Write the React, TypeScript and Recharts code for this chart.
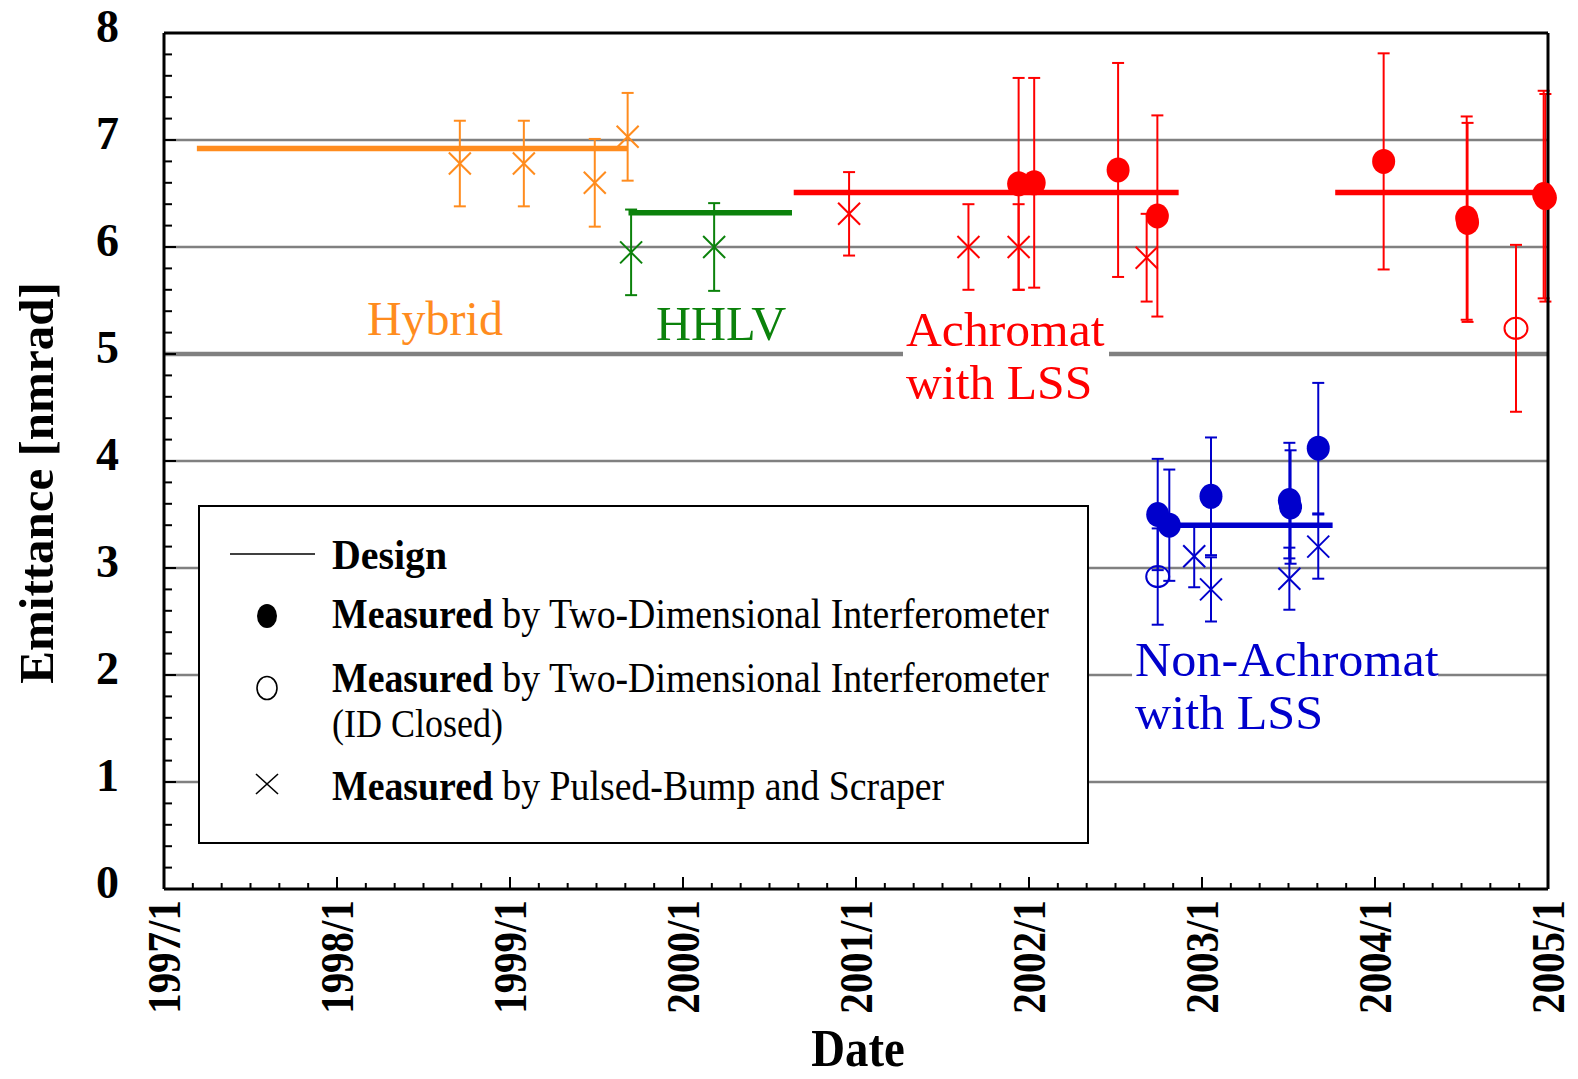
import {
  ComposedChart,
  ErrorBar,
  Legend,
  ReferenceDot,
  ReferenceLine,
  Scatter,
  XAxis,
  YAxis,
} from "recharts"

const SERIF = '"Liberation Serif", "Times New Roman", Times, serif'

const ORANGE = "#ff8c1e"
const GREEN = "#0b820b"
const RED = "#ff0000"
const BLUE = "#0000cc"
const GRID = "#808080"

// axis ticks (majors get a label, minors are only marks)
const YEAR_TICKS = [1997, 1998, 1999, 2000, 2001, 2002, 2003, 2004, 2005]
const EMITTANCE_TICKS = [0, 1, 2, 3, 4, 5, 6, 7, 8]
const GRID_THIN = [1, 2, 3, 4, 6, 7]
const GRID_THICK = [5]

// Hybrid lattice
const HYBRID_DESIGN = [
  { x: 1997.19, y: 6.92 },
  { x: 1999.68, y: 6.92 },
]
const HYBRID_PULSED = [
  { x: 1998.71, y: 6.78, err: 0.4 },
  { x: 1999.08, y: 6.78, err: 0.4 },
  { x: 1999.49, y: 6.6, err: 0.41 },
  { x: 1999.68, y: 7.03, err: 0.41 },
]

// HHLV lattice
const HHLV_DESIGN = [
  { x: 1999.685, y: 6.32 },
  { x: 2000.63, y: 6.32 },
]
const HHLV_PULSED = [
  { x: 1999.7, y: 5.95, err: 0.4 },
  { x: 2000.18, y: 6.0, err: 0.41 },
]

// Achromat with LSS
const ACHROMAT_DESIGN_A = [
  { x: 2000.64, y: 6.51 },
  { x: 2002.865, y: 6.51 },
]
const ACHROMAT_DESIGN_B = [
  { x: 2003.77, y: 6.51 },
  { x: 2005.0, y: 6.51 },
]
const ACHROMAT_PULSED = [
  { x: 2000.96, y: 6.31, err: 0.39 },
  { x: 2001.65, y: 6.0, err: 0.4 },
  { x: 2001.94, y: 6.0, err: 0.4 },
  { x: 2002.68, y: 5.9, err: 0.41 },
]
const ACHROMAT_INTERF = [
  { x: 2001.94, y: 6.59, err: 0.99 },
  { x: 2002.03, y: 6.6, err: 0.98 },
  { x: 2002.515, y: 6.72, err: 1.0 },
  { x: 2002.742, y: 6.29, err: 0.94 },
  { x: 2004.05, y: 6.8, err: 1.01 },
  { x: 2004.53, y: 6.27, err: 0.95 },
  { x: 2004.535, y: 6.23, err: 0.93 },
  { x: 2004.975, y: 6.49, err: 0.97 },
  { x: 2004.985, y: 6.46, err: 0.97 },
]
const ACHROMAT_ID_CLOSED = [{ x: 2004.815, y: 5.24, err: 0.78 }]

// Non-Achromat with LSS
const NON_ACHROMAT_DESIGN = [
  { x: 2002.74, y: 3.4 },
  { x: 2003.755, y: 3.4 },
]
const NON_ACHROMAT_INTERF = [
  { x: 2002.744, y: 3.5, err: 0.52 },
  { x: 2002.811, y: 3.4, err: 0.52 },
  { x: 2003.052, y: 3.67, err: 0.55 },
  { x: 2003.505, y: 3.63, err: 0.54 },
  { x: 2003.512, y: 3.57, err: 0.53 },
  { x: 2003.672, y: 4.12, err: 0.61 },
]
const NON_ACHROMAT_ID_CLOSED = [{ x: 2002.744, y: 2.92, err: 0.45 }]
const NON_ACHROMAT_PULSED = [
  { x: 2002.955, y: 3.11, err: 0.29 },
  { x: 2003.052, y: 2.8, err: 0.3 },
  { x: 2003.505, y: 2.9, err: 0.29 },
  { x: 2003.672, y: 3.2, err: 0.3 },
]

// lattice names written on the plot, anchored at the start of the first baseline
const NOTES = [
  { lines: ["Hybrid"], color: ORANGE, x: 1998.173, y: 5.178, box: 0, stretch: 1 },
  { lines: ["HHLV"], color: GREEN, x: 1999.844, y: 5.131, box: 0, stretch: 1.01 },
  { lines: ["Achromat", "with LSS"], color: RED, x: 2001.289, y: 5.075, box: 206, stretch: 1.035 },
  { lines: ["Non-Achromat", "with LSS"], color: BLUE, x: 2002.613, y: 1.99, box: 306, stretch: 1.045 },
]
const NOTE_SIZE = 48
const NOTE_GAP = 53

const LEGEND_ROWS = [
  { marker: "filled", rest: " by Two-Dimensional Interferometer", extra: "" },
  { marker: "open", rest: " by Two-Dimensional Interferometer", extra: "(ID Closed)" },
  { marker: "cross", rest: " by Pulsed-Bump and Scraper", extra: "" },
]

function withMinor(majors: number[], per: number) {
  const out: number[] = []
  majors.forEach((m, i) => {
    out.push(m)
    if (i < majors.length - 1) {
      for (let k = 1; k < per; k++) out.push(m + (k * (majors[i + 1] - m)) / per)
    }
  })
  return out
}

const X_TICKS = withMinor(YEAR_TICKS, 6)
const Y_TICKS = withMinor(EMITTANCE_TICKS, 5)

const filledDot = (color: string) => (p: any) =>
  <ellipse cx={p.cx} cy={p.cy} rx={11.5} ry={12.5} fill={color} />

const openDot = (color: string) => (p: any) =>
  <ellipse cx={p.cx} cy={p.cy} rx={11.5} ry={10.5} fill="none" stroke={color} strokeWidth={2} />

const crossMark = (color: string) => (p: any) => (
  <g stroke={color} strokeWidth={2}>
    <line x1={p.cx - 11} y1={p.cy - 11} x2={p.cx + 11} y2={p.cy + 11} />
    <line x1={p.cx - 11} y1={p.cy + 11} x2={p.cx + 11} y2={p.cy - 11} />
  </g>
)

function BottomTick({ x, y, payload }: any) {
  const major = YEAR_TICKS.includes(payload.value)
  return (
    <g>
      <line x1={x} x2={x} y1={y} y2={y - (major ? 12 : 6)} stroke="#000" strokeWidth={2} />
      {major && (
        <text
          transform={`translate(${x},${y + 11}) rotate(-90) scale(1,1.12)`}
          textAnchor="end"
          dy="0.34em"
          fontFamily={SERIF}
          fontWeight="bold"
          fontSize={41}
          fill="#000"
        >
          {`${payload.value}/1`}
        </text>
      )}
    </g>
  )
}

function TopTick({ x, y, payload }: any) {
  const major = YEAR_TICKS.includes(payload.value)
  return <line x1={x} x2={x} y1={y} y2={y + (major ? 12 : 6)} stroke="#000" strokeWidth={2} />
}

function LeftTick({ x, y, payload }: any) {
  const major = EMITTANCE_TICKS.includes(payload.value)
  return (
    <g>
      <line x1={x} x2={x + (major ? 12 : 8)} y1={y} y2={y} stroke="#000" strokeWidth={2} />
      {major && (
        <text x={x - 45} y={y + 9} textAnchor="end" fontFamily={SERIF} fontWeight="bold" fontSize={46} fill="#000">
          {payload.value}
        </text>
      )}
    </g>
  )
}

function RightTick({ x, y, payload }: any) {
  const major = EMITTANCE_TICKS.includes(payload.value)
  return <line x1={x} x2={x - (major ? 12 : 8)} y1={y} y2={y} stroke="#000" strokeWidth={2} />
}

function YTitle({ viewBox }: any) {
  const cy = viewBox.y + viewBox.height / 2 + 22
  return (
    <text
      transform={`translate(36,${cy}) rotate(-90)`}
      textAnchor="middle"
      dy="0.34em"
      fontFamily={SERIF}
      fontWeight="bold"
      fontSize={49}
      fill="#000"
    >
      Emittance [nmrad]
    </text>
  )
}

function XTitle({ viewBox }: any) {
  const cx = viewBox.x + viewBox.width / 2 + 2
  return (
    <text
      transform={`translate(${cx},1066) scale(0.9,1)`}
      textAnchor="middle"
      fontFamily={SERIF}
      fontWeight="bold"
      fontSize={52}
      fill="#000"
    >
      Date
    </text>
  )
}

function noteShape(note: (typeof NOTES)[number]) {
  return (p: any) => (
    <g>
      {note.box > 0 && (
        <rect
          x={p.cx - 3}
          y={p.cy - 40}
          width={note.box}
          height={40 + NOTE_GAP * (note.lines.length - 1) + 12}
          fill="#fff"
        />
      )}
      {note.lines.map((line, i) => (
        <text
          key={line}
          transform={`translate(${p.cx},${p.cy + i * NOTE_GAP}) scale(${note.stretch},1)`}
          fontFamily={SERIF}
          fontSize={NOTE_SIZE}
          fill={note.color}
        >
          {line}
        </text>
      ))}
    </g>
  )
}

function LegendMarker({ kind, cx, cy }: { kind: string; cx: number; cy: number }) {
  if (kind === "filled") return <ellipse cx={cx} cy={cy} rx={10} ry={12} fill="#000" />
  if (kind === "open") return <ellipse cx={cx} cy={cy} rx={10} ry={11.5} fill="none" stroke="#000" strokeWidth={1.6} />
  return (
    <g stroke="#000" strokeWidth={1.6}>
      <line x1={cx - 11} y1={cy - 10} x2={cx + 11} y2={cy + 10} />
      <line x1={cx - 11} y1={cy + 10} x2={cx + 11} y2={cy - 10} />
    </g>
  )
}

function LegendBox() {
  const rowY = [123, 187, 295]
  const markerY = [111, 183, 279]
  return (
    <svg width={891} height={339} style={{ display: "block" }}>
      <rect x={1} y={1} width={889} height={337} fill="#fff" stroke="#000" strokeWidth={2} />
      <line x1={32} x2={117} y1={49} y2={49} stroke="#000" strokeWidth={1.6} />
      <text transform="translate(134,64) scale(0.95,1)" fontFamily={SERIF} fontWeight="bold" fontSize={42} fill="#000">
        Design
      </text>
      {LEGEND_ROWS.map((row, i) => (
        <g key={i}>
          <LegendMarker kind={row.marker} cx={69} cy={markerY[i]} />
          <text transform={`translate(134,${rowY[i]}) scale(0.9,1)`} fontFamily={SERIF} fontSize={42} fill="#000">
            <tspan fontWeight="bold">Measured</tspan>
            <tspan>{row.rest}</tspan>
          </text>
          {row.extra && (
            <text transform={`translate(134,${rowY[i] + 45}) scale(0.9,1)`} fontFamily={SERIF} fontSize={40} fill="#000">
              {row.extra}
            </text>
          )}
        </g>
      ))}
    </svg>
  )
}

const designLines = [
  { seg: HYBRID_DESIGN, color: ORANGE },
  { seg: HHLV_DESIGN, color: GREEN },
  { seg: ACHROMAT_DESIGN_A, color: RED },
  { seg: ACHROMAT_DESIGN_B, color: RED },
  { seg: NON_ACHROMAT_DESIGN, color: BLUE },
]

const measured = [
  { data: HYBRID_PULSED, color: ORANGE, shape: crossMark },
  { data: HHLV_PULSED, color: GREEN, shape: crossMark },
  { data: ACHROMAT_PULSED, color: RED, shape: crossMark },
  { data: ACHROMAT_ID_CLOSED, color: RED, shape: openDot },
  { data: ACHROMAT_INTERF, color: RED, shape: filledDot },
  { data: NON_ACHROMAT_PULSED, color: BLUE, shape: crossMark },
  { data: NON_ACHROMAT_ID_CLOSED, color: BLUE, shape: openDot },
  { data: NON_ACHROMAT_INTERF, color: BLUE, shape: filledDot },
]

export default function App() {
  return (
    <div style={{ position: "absolute", left: 0, top: 0, width: 1578, height: 1079, background: "#fff", fontFamily: SERIF }}>
      <ComposedChart width={1578} height={1079} margin={{ top: 32, right: 29, bottom: 0, left: 0 }}>
        <XAxis
          type="number"
          dataKey="x"
          domain={[1997, 2005]}
          ticks={X_TICKS}
          interval={0}
          height={190}
          tickSize={0}
          tickMargin={0}
          tickLine={false}
          axisLine={{ stroke: "#000", strokeWidth: 3 }}
          tick={BottomTick}
          label={XTitle}
        />
        <XAxis
          xAxisId="top"
          orientation="top"
          type="number"
          domain={[1997, 2005]}
          ticks={X_TICKS}
          interval={0}
          height={1}
          tickSize={0}
          tickMargin={0}
          tickLine={false}
          axisLine={{ stroke: "#000", strokeWidth: 3 }}
          tick={TopTick}
        />
        <YAxis
          type="number"
          dataKey="y"
          domain={[0, 8]}
          ticks={Y_TICKS}
          interval={0}
          width={164}
          tickSize={0}
          tickMargin={0}
          tickLine={false}
          axisLine={{ stroke: "#000", strokeWidth: 3 }}
          tick={LeftTick}
          label={YTitle}
        />
        <YAxis
          yAxisId="right"
          orientation="right"
          type="number"
          domain={[0, 8]}
          ticks={Y_TICKS}
          interval={0}
          width={1}
          tickSize={0}
          tickMargin={0}
          tickLine={false}
          axisLine={{ stroke: "#000", strokeWidth: 3 }}
          tick={RightTick}
        />

        {GRID_THIN.map((v) => (
          <ReferenceLine key={`g${v}`} y={v} stroke={GRID} strokeWidth={2.5} />
        ))}
        {GRID_THICK.map((v) => (
          <ReferenceLine key={`G${v}`} y={v} stroke={GRID} strokeWidth={4.5} />
        ))}

        {NOTES.map((note) => (
          <ReferenceDot key={note.lines[0]} x={note.x} y={note.y} r={0} ifOverflow="visible" shape={noteShape(note)} />
        ))}

        {designLines.map((d, i) => (
          <ReferenceLine key={`d${i}`} segment={d.seg} stroke={d.color} strokeWidth={5.5} />
        ))}

        {measured.map((m, i) => (
          <Scatter
            key={`m${i}`}
            data={m.data}
            fill={m.color}
            shape={m.shape(m.color)}
            legendType="none"
            isAnimationActive={false}
          >
            <ErrorBar dataKey="err" direction="y" width={6} stroke={m.color} strokeWidth={2} isAnimationActive={false} />
          </Scatter>
        ))}

        <Legend
          layout="horizontal"
          verticalAlign="middle"
          align="center"
          wrapperStyle={{ position: "absolute", left: 198, top: 505, width: 891, height: 339, margin: 0 }}
          content={() => <LegendBox />}
        />
      </ComposedChart>
    </div>
  )
}
